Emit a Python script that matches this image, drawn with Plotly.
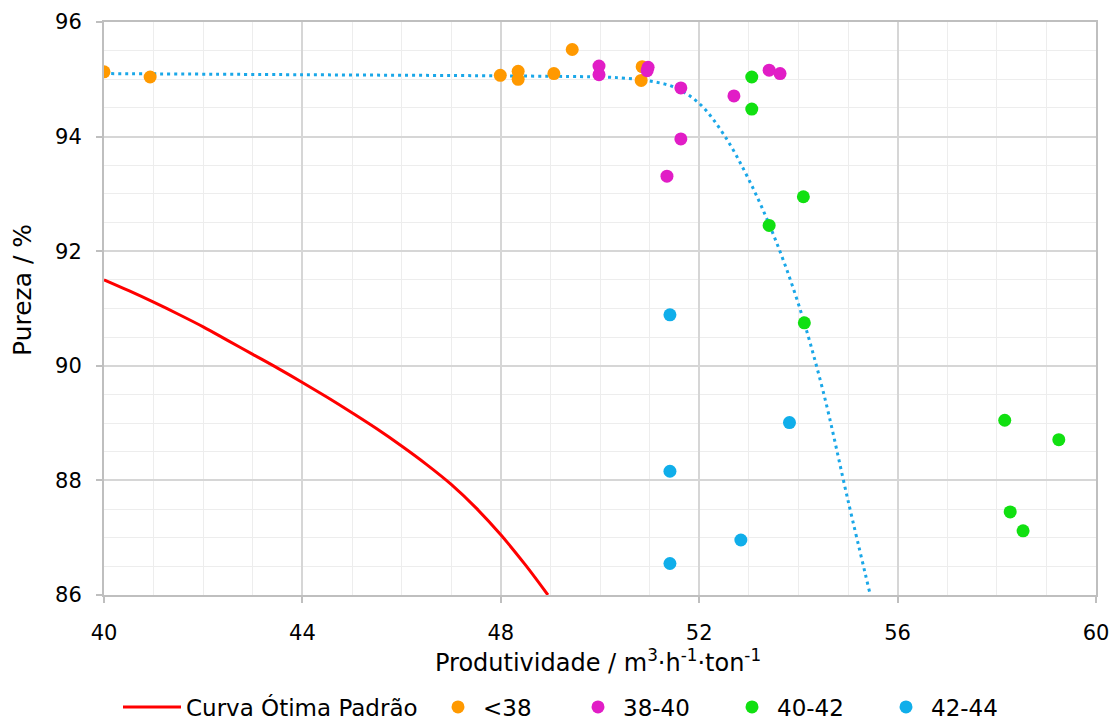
import plotly.graph_objects as go

# Curva Ótima Padrão
curve_x = [40, 40.5, 41, 41.5, 42, 42.5, 43, 43.5, 44, 44.5, 45, 45.5, 46, 46.5, 47, 47.5,
           48, 48.5, 48.95]
curve_y = [91.50, 91.31, 91.11, 90.90, 90.68, 90.44, 90.20, 89.96, 89.71, 89.45, 89.18,
           88.90, 88.60, 88.28, 87.93, 87.52, 87.05, 86.52, 86.0]

# Trend line (dotted)
trend_x = [40, 44, 48, 50, 50.5, 51.0, 51.5, 52.0, 52.5, 53.0, 53.5, 54.0, 54.5, 55.0, 55.45]
trend_y = [95.10, 95.08, 95.06, 95.04, 95.02, 94.97, 94.86, 94.58, 94.03, 93.25, 92.28,
           91.08, 89.55, 87.65, 86.0]

# <38
s1_x = [40.0, 40.93, 47.99, 48.35, 48.35, 49.07, 49.44, 50.85, 50.83]
s1_y = [95.13, 95.04, 95.07, 95.14, 95.0, 95.10, 95.52, 95.22, 94.98]
# 38-40
s2_x = [49.98, 49.98, 50.97, 50.95, 51.63, 51.63, 51.35, 52.70, 53.41, 53.63]
s2_y = [95.23, 95.08, 95.21, 95.15, 94.85, 93.96, 93.31, 94.71, 95.16, 95.10]
# 40-42
s3_x = [53.06, 53.06, 54.10, 53.41, 54.12, 58.16, 59.25, 58.27, 58.53]
s3_y = [95.04, 94.48, 92.95, 92.45, 90.75, 89.05, 88.71, 87.45, 87.12]
# 42-44
s4_x = [51.41, 53.82, 51.41, 52.84, 51.41]
s4_y = [90.89, 89.01, 88.16, 86.96, 86.55]

FONT = "DejaVu Sans"
W, H = 1117, 721
PL, PR, PT, PB = 104, 1096, 22, 595

fig = go.Figure()
fig.add_trace(go.Scatter(x=curve_x, y=curve_y, mode="lines", name="Curva Ótima Padrão",
                         legend="legend",
                         line=dict(color="#FF0000", width=3, shape="spline", smoothing=1)))
fig.add_trace(go.Scatter(x=trend_x, y=trend_y, mode="lines", showlegend=False,
                         line=dict(color="#1AA7E8", width=3, dash="3px,4px", shape="spline",
                                   smoothing=1)))
series = [(s1_x, s1_y, "<38", "#FF9900", "legend2", 433),
          (s2_x, s2_y, "38-40", "#E11DC6", "legend3", 573),
          (s3_x, s3_y, "40-42", "#11E011", "legend4", 727),
          (s4_x, s4_y, "42-44", "#10AEEA", "legend5", 881)]
for xs, ys, nm, col, lg, _ in series:
    fig.add_trace(go.Scatter(x=xs, y=ys, mode="markers", name=nm, legend=lg,
                             marker=dict(color=col, size=13, line=dict(width=0))))

LEG_Y = 1 - 707 / H
def leg(xpx, iw=40):
    return dict(orientation="h", x=xpx / W, xanchor="left", xref="container",
                y=LEG_Y, yanchor="middle", yref="container",
                font=dict(family=FONT, size=23, color="#000000"), itemwidth=iw,
                bgcolor="rgba(0,0,0,0)", borderwidth=0)

layout_legends = {"legend": leg(176 - 58, 58)}
for _, _, _, _, lg, xp in series:
    layout_legends[lg] = leg(xp)

fig.update_layout(
    width=W, height=H,
    margin=dict(l=PL, r=W - PR, t=PT, b=H - PB, autoexpand=False),
    plot_bgcolor="white", paper_bgcolor="white",
    font=dict(family=FONT, size=21, color="#000000"),
    showlegend=True,
    **layout_legends,
)
fig.update_xaxes(range=[40, 60], dtick=4, tick0=40, automargin=False,
                 showgrid=True, gridcolor="#D6D6D6", gridwidth=1.5,
                 minor=dict(dtick=1, showgrid=True, gridcolor="#EDEDED", gridwidth=1.3),
                 showline=True, linecolor="#BFBFBF", linewidth=2, mirror=True,
                 ticks="outside", ticklen=6, tickcolor="#BFBFBF", tickwidth=2,
                 ticklabelstandoff=12,
                 zeroline=False, tickfont=dict(size=21))
fig.update_yaxes(range=[86, 96], dtick=2, tick0=86, automargin=False,
                 showgrid=True, gridcolor="#D6D6D6", gridwidth=1.5,
                 minor=dict(dtick=0.5, showgrid=True, gridcolor="#EDEDED", gridwidth=1.3),
                 showline=True, linecolor="#BFBFBF", linewidth=2, mirror=True,
                 ticks="outside", ticklen=6, tickcolor="#BFBFBF", tickwidth=2,
                 ticklabelstandoff=10,
                 zeroline=False, tickfont=dict(size=21))
pw, ph = PR - PL, PB - PT
fig.add_annotation(text="Pureza / %", textangle=-90, xref="paper", yref="paper",
                   x=(22 - PL) / pw, y=(PB - 290) / ph, xanchor="center",
                   yanchor="middle", showarrow=False, font=dict(size=25, family=FONT))
fig.add_annotation(text="Produtividade / m<sup>3</sup>·h<sup>-1</sup>·ton<sup>-1</sup>",
                   xref="paper", yref="paper",
                   x=(597.5 - PL) / pw, y=(PB - 661) / ph, xanchor="center",
                   yanchor="middle", showarrow=False, font=dict(size=24, family=FONT))

fig.write_html("out.html")
